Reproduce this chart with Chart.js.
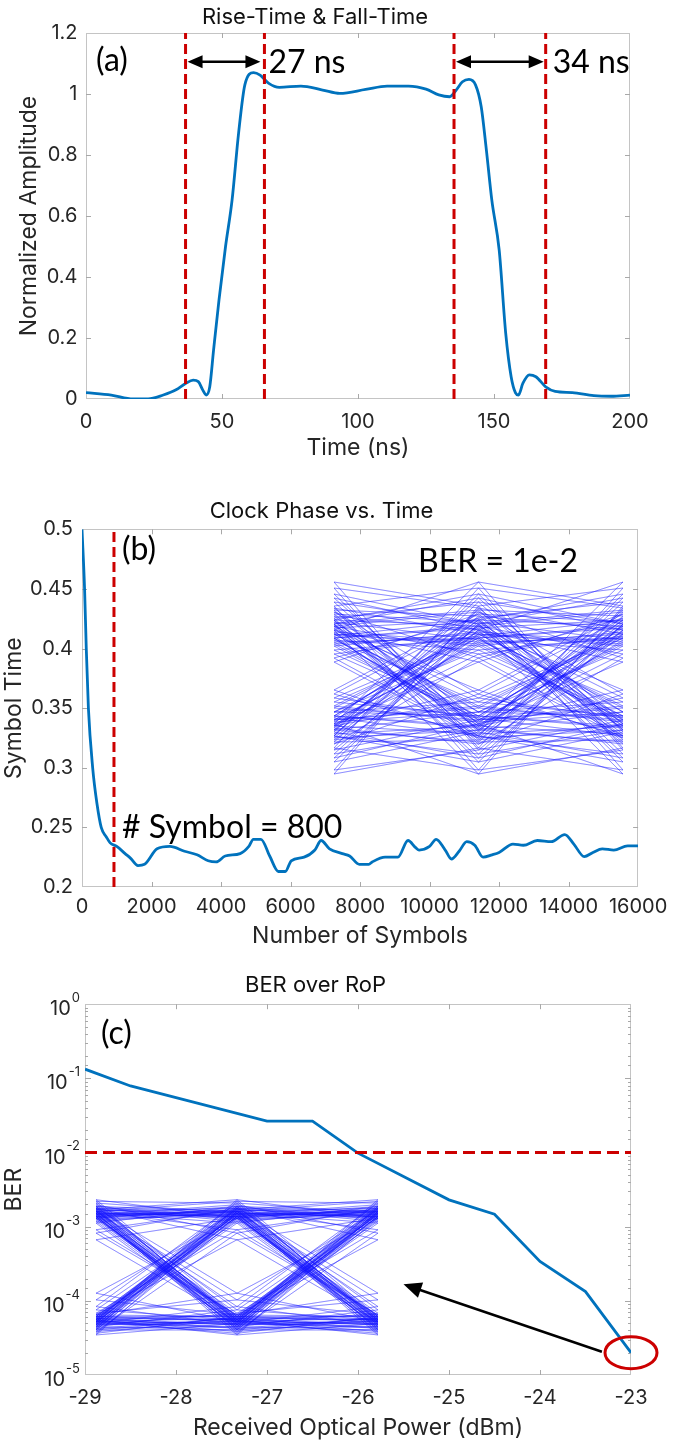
<!DOCTYPE html>
<html>
<head>
<meta charset="utf-8">
<script src="https://cdn.jsdelivr.net/npm/chart.js@4.4.1/dist/chart.umd.min.js"></script>
<style>
  html, body { margin: 0; padding: 0; background: #fff; }
  #page { position: relative; width: 675px; height: 1445px; overflow: hidden; }
  canvas { position: absolute; }
</style>
</head>
<body>
<div id="page">
  <canvas id="chartA" width="675" height="462" style="left:0;top:0"></canvas>
  <canvas id="chartB" width="675" height="470" style="left:0;top:480px"></canvas>
  <canvas id="chartC" width="675" height="482" style="left:0;top:960px"></canvas>
  <canvas id="eyeB" width="289" height="200" style="left:334px;top:578px"></canvas>
  <canvas id="eyeC" width="282" height="167" style="left:96px;top:1183px"></canvas>
</div>
<script>
// (a) pulse response
const pulseTime = [0, 9.3, 17.3, 22.8, 28.4, 33.1, 36.6, 39.4, 41.3, 42.9, 44.2, 45.5, 46.9, 48.9, 51.3, 53.7,
  56.1, 58.4, 61.6, 64.0, 67.2, 71.1, 79.0, 87.0, 93.3, 102.8, 110.7, 118.6, 125.0, 129.7, 133.7, 136.1,
  138.4, 140.8, 143.2, 145.3, 147.2, 149.2, 151.9, 154.3, 156.3, 157.9, 159.0, 160.6, 163.0, 165.4, 169.0,
  172.5, 178.8, 186.7, 193.1, 200];
const pulseAmp = [0.021, 0.013, 0.0, 0.0, 0.013, 0.03, 0.051, 0.062, 0.057, 0.03, 0.013, 0.04, 0.16, 0.325, 0.50, 0.652,
  0.872, 1.03, 1.07, 1.062, 1.035, 1.022, 1.026, 1.013, 1.002, 1.015, 1.026, 1.026, 1.016, 0.997, 0.991, 1.013,
  1.04, 1.048, 1.03, 0.958, 0.816, 0.652, 0.489, 0.216, 0.073, 0.02, 0.013, 0.051, 0.079, 0.073, 0.04,
  0.025, 0.021, 0.011, 0.009, 0.013];
const riseFallMarks = [36.6, 65.6, 135.3, 169.0];
const riseFallText = ['27 ns', '34 ns'];
const arrowLevel = 1.106;

// (b) clock phase
const symbolCount = [0, 74, 123, 184, 307, 430, 553, 700, 810, 1000, 1240, 1400, 1610, 1800, 2160, 2530, 2950, 3310, 3630, 3860,
  4120, 4550, 4800, 4930, 5150, 5400, 5650, 5850, 6020, 6390, 6700, 6880, 7120, 7490, 7700, 7980, 8250, 8350, 8720, 9090,
  9380, 9600, 9700, 10000, 10190, 10450, 10630, 10850, 11070, 11300, 11540, 11800, 12000, 12400, 12700, 13100, 13500, 13890, 14150, 14450,
  14700, 14970, 15300, 15700, 16000];
const symbolTime = [0.5, 0.45, 0.40, 0.35, 0.30, 0.27, 0.25, 0.242, 0.237, 0.234, 0.228, 0.224, 0.218, 0.219, 0.232, 0.234, 0.230, 0.227, 0.222, 0.221,
  0.226, 0.228, 0.234, 0.240, 0.240, 0.226, 0.213, 0.213, 0.222, 0.225, 0.231, 0.239, 0.232, 0.228, 0.226, 0.219, 0.219, 0.221, 0.225, 0.225,
  0.239, 0.233, 0.231, 0.234, 0.240, 0.231, 0.2235, 0.230, 0.238, 0.235, 0.225, 0.227, 0.229, 0.236, 0.235, 0.239, 0.238, 0.244, 0.236, 0.2255,
  0.229, 0.232, 0.231, 0.2345, 0.2345];
const syncSymbol = 920;
const syncText = '# Symbol = 800';
const eyeBText = 'BER = 1e-2';

// (c) BER over received power
const ropDbm = [-29, -28.5, -27, -26.5, -26, -25, -24.5, -24, -23.5, -23];
const berValue = [0.133, 0.079, 0.0265, 0.0265, 0.0098, 0.0023, 0.00147, 3.4e-4, 1.33e-4, 2.0e-5];
const berLimit = 1e-2;
const eyeArrowFrom = [-23.32, 2.06e-5];
const eyeArrowTo = [-25.5, 1.67e-4];
const circledPoint = [-23, 2.0e-5];

// eye diagrams: symbol levels sampled at three instants
const eyeSampleAt = [0, 0.5, 1];
const eyeBitPatterns = [[0,0,0],[0,0,1],[0,1,0],[0,1,1],[1,0,0],[1,0,1],[1,1,0],[1,1,1]];
const eyeHighB = [0.78, 0.70, 0.84, 0.74, 0.66, 0.80, 0.92, 0.72, 0.76, 0.62, 0.86, 0.69, 0.75, 0.81, 0.58, 0.73, 0.88, 0.77,
  0.67, 0.83, 0.71, 0.95, 0.64, 0.79, 0.74, 0.82, 0.68, 0.77, 0.90, 0.72, 0.60, 0.79, 0.85, 0.70, 0.76, 0.98];
const eyeLowB  = [0.24, 0.31, 0.18, 0.27, 0.36, 0.21, 0.08, 0.29, 0.25, 0.40, 0.15, 0.33, 0.26, 0.19, 0.44, 0.28, 0.12, 0.23,
  0.35, 0.17, 0.30, 0.04, 0.38, 0.22, 0.27, 0.20, 0.33, 0.24, 0.10, 0.29, 0.42, 0.21, 0.14, 0.31, 0.26, 0.02];
const eyeHighC = [0.84, 0.81, 0.86, 0.79, 0.83, 0.88, 0.80, 0.82, 0.77, 0.85, 0.83, 0.90, 0.81, 0.78, 0.84, 0.72, 0.82, 0.86,
  0.80, 0.83, 0.66, 0.85, 0.79, 0.87, 0.82, 0.80, 0.84, 0.76, 0.83, 0.81, 0.89, 0.79, 0.82, 0.85, 0.70, 0.80];
const eyeLowC  = [0.17, 0.20, 0.14, 0.18, 0.22, 0.15, 0.19, 0.12, 0.17, 0.21, 0.16, 0.10, 0.18, 0.24, 0.15, 0.30, 0.17, 0.13,
  0.19, 0.16, 0.34, 0.14, 0.20, 0.11, 0.18, 0.16, 0.21, 0.13, 0.19, 0.15, 0.26, 0.17, 0.12, 0.20, 0.18, 0.09];

const FONT = "Inter, 'Liberation Sans', Arial, sans-serif";
const NOTE_FONT = "Lato, 'Open Sans', sans-serif";
const BLUE = '#0072BD';
const RED = '#CC0000';
const INK = '#262626';

Chart.defaults.font.family = FONT;

function pts(xs, ys) { return xs.map((x, i) => ({x: x, y: ys[i]})); }

// box with inward ticks, matlab style
const frame = {
  id: 'frame',
  beforeDatasetsDraw(chart) {
    const {ctx, chartArea: a} = chart;
    const sx = chart.scales.x, sy = chart.scales.y;
    ctx.save();
    ctx.strokeStyle = '#c4c4c4';
    ctx.lineWidth = 1;
    ctx.strokeRect(Math.round(a.left) + 0.5, Math.round(a.top) + 0.5, Math.round(a.width) - 1, Math.round(a.height) - 1);
    ctx.strokeStyle = '#a8a8a8';
    ctx.beginPath();
    sx.ticks.forEach(t => {
      const p = Math.round(sx.getPixelForValue(t.value)) + 0.5;
      if (p < a.left + 2 || p > a.right - 2) return;
      ctx.moveTo(p, a.bottom); ctx.lineTo(p, a.bottom - 5);
      ctx.moveTo(p, a.top); ctx.lineTo(p, a.top + 5);
    });
    sy.ticks.forEach(t => {
      const p = Math.round(sy.getPixelForValue(t.value)) + 0.5;
      if (p < a.top + 2 || p > a.bottom - 2) return;
      let len = 5;
      if (sy.type === 'logarithmic') {
        const e = Math.log10(t.value);
        len = Math.abs(e - Math.round(e)) < 1e-6 ? 6 : 3;
      }
      ctx.moveTo(a.left, p); ctx.lineTo(a.left + len, p);
      ctx.moveTo(a.right, p); ctx.lineTo(a.right - len, p);
    });
    ctx.stroke();
    ctx.restore();
  }
};

function note(ctx, text, x, y, size) {
  ctx.font = size + 'px ' + NOTE_FONT;
  ctx.fillStyle = '#000';
  ctx.textAlign = 'left';
  ctx.textBaseline = 'middle';
  ctx.fillText(text, x, y);
}

function head(ctx, x1, y1, x2, y2, len, half) {
  const ang = Math.atan2(y2 - y1, x2 - x1);
  const c = Math.cos(ang), s = Math.sin(ang);
  ctx.beginPath();
  ctx.moveTo(x2, y2);
  ctx.lineTo(x2 - len * c + half * s, y2 - len * s - half * c);
  ctx.lineTo(x2 - len * c - half * s, y2 - len * s + half * c);
  ctx.closePath();
  ctx.fill();
}

function arrow(ctx, x1, y1, x2, y2, both, len, half, lw) {
  const ang = Math.atan2(y2 - y1, x2 - x1);
  const c = Math.cos(ang), s = Math.sin(ang);
  ctx.save();
  ctx.strokeStyle = '#000';
  ctx.fillStyle = '#000';
  ctx.lineWidth = lw;
  ctx.beginPath();
  ctx.moveTo(both ? x1 + (len - 2) * c : x1, both ? y1 + (len - 2) * s : y1);
  ctx.lineTo(x2 - (len - 2) * c, y2 - (len - 2) * s);
  ctx.stroke();
  head(ctx, x1, y1, x2, y2, len, half);
  if (both) head(ctx, x2, y2, x1, y1, len, half);
  ctx.restore();
}

function axisX(min, max, step, title, height, pad) {
  return {
    type: 'linear', min: min, max: max,
    grid: {display: false, drawTicks: false}, border: {display: false},
    ticks: {stepSize: step, color: INK, font: {size: 20}, padding: pad, maxRotation: 0, autoSkip: false,
      callback: v => String(+v.toFixed(3))},
    title: {display: true, text: title, color: INK, font: {size: 23}, padding: {top: 0, bottom: 0}},
    afterFit: s => { s.height = height; }
  };
}

function axisY(min, max, step, title, width, pad, titlePad) {
  return {
    type: 'linear', min: min, max: max,
    grid: {display: false, drawTicks: false}, border: {display: false},
    ticks: {stepSize: step, color: INK, font: {size: 20}, padding: pad, autoSkip: false,
      callback: v => String(+v.toFixed(3))},
    title: {display: true, text: title, color: INK, font: {size: 23}, padding: {top: titlePad, bottom: 0}},
    afterFit: s => { s.width = width; }
  };
}

function baseOptions(title, titlePad, right) {
  return {
    responsive: false, animation: false, events: [],
    layout: {padding: {left: 0, right: right, top: 0, bottom: 0}},
    plugins: {
      legend: {display: false}, tooltip: {enabled: false},
      title: {display: true, text: title, color: '#111', font: {size: 22, weight: 'normal'}, padding: titlePad}
    },
    elements: {point: {radius: 0}, line: {tension: 0}}
  };
}

// ---- (a) ----
const optA = baseOptions('Rise-Time & Fall-Time', {top: 4, bottom: 2.6}, 45);
optA.scales = {
  x: axisX(0, 200, 50, 'Time (ns)', 63, 10.5),
  y: axisY(0, 1.2, 0.2, 'Normalized Amplitude', 86, 8.5, 15)
};
new Chart(document.getElementById('chartA'), {
  type: 'line',
  data: {datasets: [
    ...riseFallMarks.map(m => ({data: pts([m, m], [0, 1.2]), borderColor: RED, borderWidth: 3, borderDash: [10, 5]})),
    {data: pts(pulseTime, pulseAmp), borderColor: BLUE, borderWidth: 2.8, cubicInterpolationMode: 'monotone'}
  ]},
  options: optA,
  plugins: [frame, {
    id: 'notesA',
    afterDraw(chart) {
      const {ctx, chartArea: a, scales: {x, y}} = chart;
      const yy = y.getPixelForValue(arrowLevel);
      arrow(ctx, x.getPixelForValue(riseFallMarks[0]) + 2, yy, x.getPixelForValue(riseFallMarks[1]) - 4, yy, true, 15, 6.5, 2.5);
      arrow(ctx, x.getPixelForValue(riseFallMarks[2]) + 2, yy, x.getPixelForValue(riseFallMarks[3]) - 2, yy, true, 15, 6.5, 2.5);
      note(ctx, '(a)', a.left + 10, a.top + 28, 32);
      note(ctx, riseFallText[0], x.getPixelForValue(riseFallMarks[1]) + 4, yy + 1, 32);
      note(ctx, riseFallText[1], x.getPixelForValue(riseFallMarks[3]) + 7, yy + 1, 32);
    }
  }]
});

// ---- (b) ----
const optB = baseOptions('Clock Phase vs. Time', {top: 18.5, bottom: 4.4}, 32);
optB.scales = {
  x: axisX(0, 16000, 2000, 'Number of Symbols', 63, 7.7),
  y: axisY(0.2, 0.5, 0.05, 'Symbol Time', 82, 9, 0)
};
new Chart(document.getElementById('chartB'), {
  type: 'line',
  data: {datasets: [
    {data: pts([syncSymbol, syncSymbol], [0.2, 0.5]), borderColor: RED, borderWidth: 3, borderDash: [10, 5]},
    {data: pts(symbolCount, symbolTime), borderColor: BLUE, borderWidth: 2.8, cubicInterpolationMode: 'monotone'}
  ]},
  options: optB,
  plugins: [frame, {
    id: 'notesB',
    afterDraw(chart) {
      const {ctx, chartArea: a, scales: {x, y}} = chart;
      const xs = x.getPixelForValue(syncSymbol);
      note(ctx, '(b)', xs + 8, a.top + 20, 32);
      note(ctx, syncText, xs + 8, y.getPixelForValue(0.25), 32);
      note(ctx, eyeBText, a.left + 336, a.top + 32, 32);
    }
  }]
});

// ---- (c) ----
const optC = baseOptions('BER over RoP', {top: 12.5, bottom: 5.3}, 44);
optC.scales = {
  x: axisX(-29, -23, 1, 'Received Optical Power (dBm)', 67, 11),
  y: {
    type: 'logarithmic', min: 1e-5, max: 1,
    grid: {display: false, drawTicks: false}, border: {display: false},
    ticks: {autoSkip: false, callback: () => ''},
    title: {display: true, text: 'BER', color: INK, font: {size: 23}, padding: {top: 0, bottom: 0}},
    afterFit: s => { s.width = 85; }
  }
};
new Chart(document.getElementById('chartC'), {
  type: 'line',
  data: {datasets: [
    {data: pts([-29, -23], [berLimit, berLimit]), borderColor: RED, borderWidth: 3, borderDash: [12, 6]},
    {data: pts(ropDbm, berValue), borderColor: BLUE, borderWidth: 2.8}
  ]},
  options: optC,
  plugins: [frame, {
    id: 'notesC',
    afterDraw(chart) {
      const {ctx, chartArea: a, scales: {x, y}} = chart;
      // 10^k labels
      ctx.save();
      ctx.fillStyle = INK;
      ctx.textBaseline = 'middle';
      y.ticks.forEach(t => {
        const e = Math.log10(t.value);
        if (Math.abs(e - Math.round(e)) > 1e-6) return;
        const p = y.getPixelForValue(t.value);
        const sup = String(Math.round(e));
        ctx.font = '13px ' + FONT;
        const w = ctx.measureText(sup).width;
        const xs = a.left - 5 - w;
        ctx.textAlign = 'left';
        ctx.fillText(sup, xs, p - 6);
        ctx.font = '20px ' + FONT;
        ctx.textAlign = 'right';
        ctx.fillText('10', xs - 1, p + 5);
      });
      ctx.restore();
      // arrow to the eye and circled point
      arrow(ctx, x.getPixelForValue(eyeArrowFrom[0]), y.getPixelForValue(eyeArrowFrom[1]),
        x.getPixelForValue(eyeArrowTo[0]), y.getPixelForValue(eyeArrowTo[1]), false, 18, 8, 2.5);
      ctx.save();
      ctx.strokeStyle = RED;
      ctx.lineWidth = 3;
      ctx.beginPath();
      ctx.ellipse(x.getPixelForValue(circledPoint[0]), y.getPixelForValue(circledPoint[1]), 26, 16, 0, 0, Math.PI * 2);
      ctx.stroke();
      ctx.restore();
      note(ctx, '(c)', a.left + 16, a.top + 29, 32);
    }
  }]
});

// ---- eye insets: one dataset per trace so overlaps build up ----
function eyeTraces(high, low) {
  const out = [];
  const n = high.length;
  eyeBitPatterns.forEach(bits => {
    for (let j = 0; j < n; j++) {
      out.push(bits.map((b, k) => {
        const idx = (j + k * 11) % n;
        return {x: eyeSampleAt[k], y: b ? high[idx] : low[idx]};
      }));
    }
  });
  return out;
}

function eyeChart(id, high, low) {
  new Chart(document.getElementById(id), {
    type: 'line',
    data: {datasets: eyeTraces(high, low).map(tr => ({
      data: tr, borderColor: 'rgba(20,20,255,0.28)', borderWidth: 1, pointRadius: 0, tension: 0
    }))},
    options: {
      responsive: false, animation: false, events: [],
      layout: {padding: 0},
      plugins: {legend: {display: false}, tooltip: {enabled: false}},
      scales: {
        x: {type: 'linear', min: 0, max: 1, display: false},
        y: {type: 'linear', min: 0, max: 1, display: false}
      }
    }
  });
}
eyeChart('eyeB', eyeHighB, eyeLowB);
eyeChart('eyeC', eyeHighC, eyeLowC);
</script>
</body>
</html>
